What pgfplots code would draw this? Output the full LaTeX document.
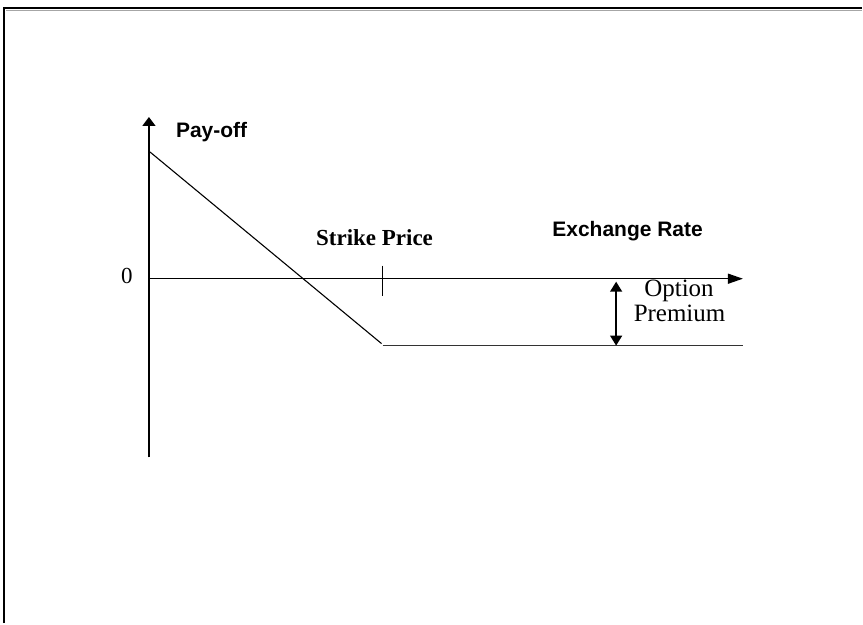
\documentclass[border=0pt]{standalone}
\usepackage{pgfplots}
\pgfplotsset{compat=1.18}
\usepackage{fontspec}
\setmainfont{Liberation Serif}
\newfontfamily\sansf{Liberation Sans}
\usetikzlibrary{arrows.meta}
\begin{document}
\begin{tikzpicture}
\begin{axis}[
  x=1bp, y=1bp,
  xmin=-149, xmax=714, ymin=-345, ymax=279,
  hide axis, clip=false,
]
% page frame (white) and the top/left border lines
\draw[white] (axis cs:-149,-345) rectangle (axis cs:714,279);
\addplot[black, line width=2.6bp] coordinates {(-145,-345) (-145,271) (714,271)};
\addplot[gray!70, line width=1.3bp] coordinates {(-143,268.5) (714,268.5)};
% axes
\addplot[black, line width=1.4bp, -{Triangle[length=9bp,width=13bp]}] coordinates {(0,-179) (0,162)};
\addplot[black, line width=1.4bp, -{Triangle[length=15bp,width=10bp]}] coordinates {(0,0) (595,0)};
% strike tick
\addplot[black, line width=1.4bp] coordinates {(234,13) (234,-17)};
% pay-off of the long put
\addplot[black, line width=1.1bp] coordinates {(1,127) (233,-65)};
\addplot[black!80, line width=1.7bp] coordinates {(234,-67) (595,-67)};
% option premium double arrow
\addplot[black, line width=1.4bp, {Triangle[length=10bp,width=12bp]}-{Triangle[length=10bp,width=12bp]}] coordinates {(468,-3) (468,-67)};
% labels
\node[anchor=base west, inner sep=0pt] at (axis cs:27,141) {\sansf\bfseries\fontsize{21bp}{24bp}\selectfont Pay-off};
\node[anchor=base west, inner sep=0pt] at (axis cs:404,42) {\sansf\bfseries\fontsize{21bp}{24bp}\selectfont Exchange Rate};
\node[anchor=base, inner sep=0pt] at (axis cs:226,33) {\bfseries\fontsize{23bp}{26bp}\selectfont Strike Price};
\node[anchor=base, inner sep=0pt] at (axis cs:-22,-5) {\fontsize{23bp}{26bp}\selectfont 0};
\node[anchor=base, inner sep=0pt] at (axis cs:531,-18) {\fontsize{25bp}{26bp}\selectfont Option};
\node[anchor=base, inner sep=0pt] at (axis cs:531.5,-43) {\fontsize{25bp}{26bp}\selectfont Premium};
\end{axis}
\end{tikzpicture}
\end{document}
